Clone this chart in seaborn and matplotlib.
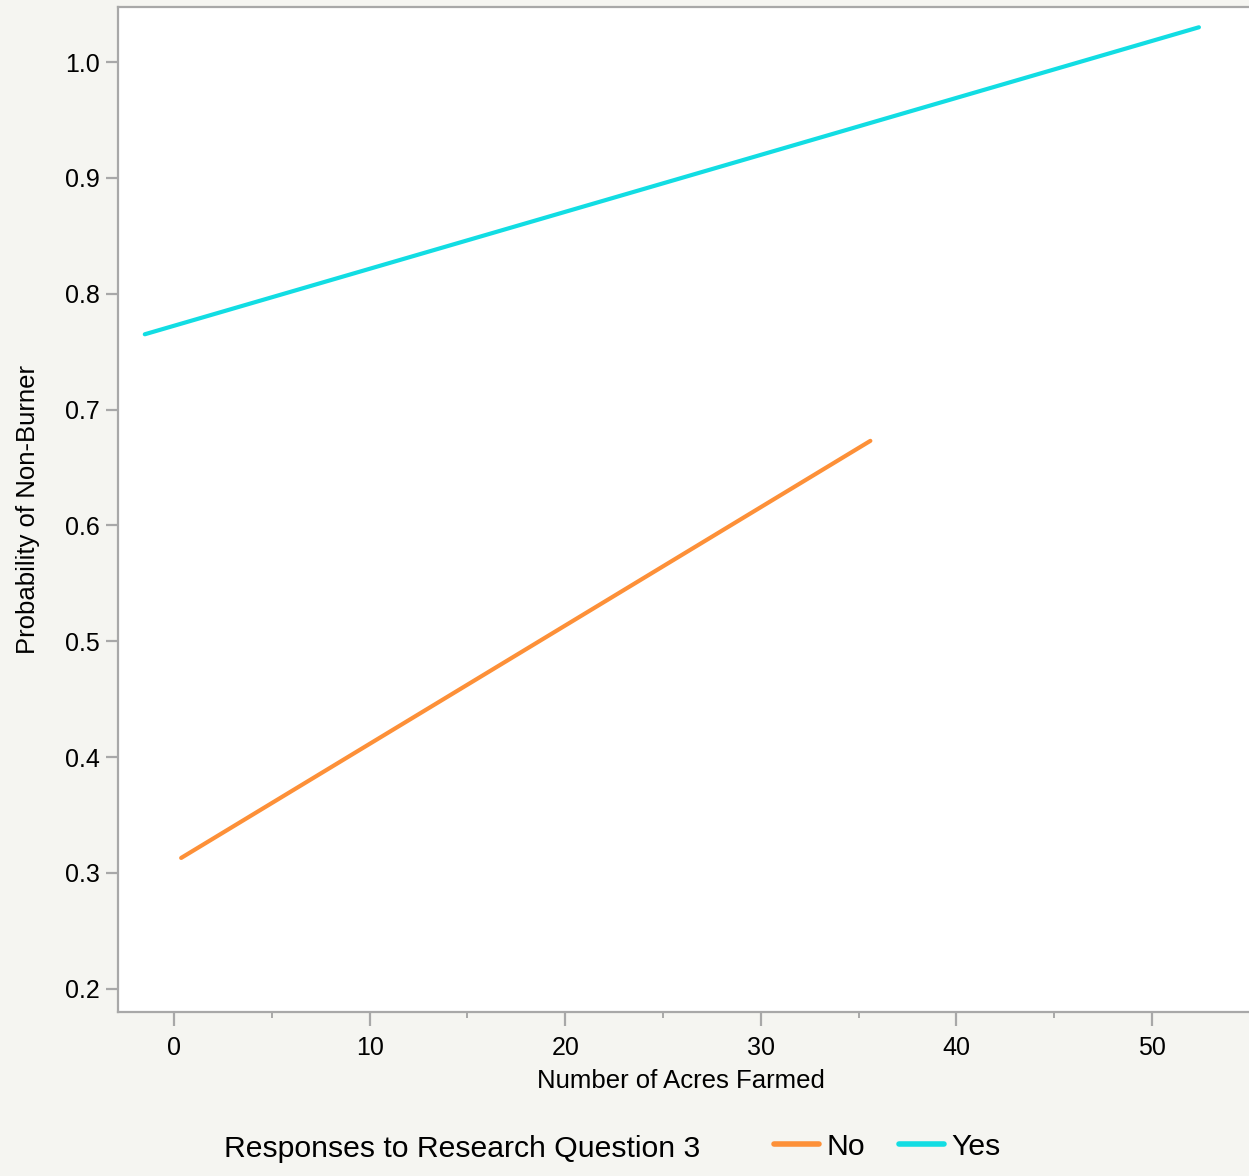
import pandas as pd
import seaborn as sns
import matplotlib.pyplot as plt
from matplotlib.ticker import MultipleLocator

# fitted line endpoints
groups = ["No", "No", "Yes", "Yes"]
acres = [0.36, 35.6, -1.5, 52.4]
prob = [0.313, 0.673, 0.765, 1.030]

palette = {"No": "#fd9038", "Yes": "#12dde3"}
x_ticks = [0, 10, 20, 30, 40, 50]
y_ticks = [0.2, 0.3, 0.4, 0.5, 0.6, 0.7, 0.8, 0.9, 1.0]

df = pd.DataFrame({"Responses": groups, "Acres": acres, "Prob": prob})

sns.set_style("white")
plt.rcParams['font.family'] = ['Liberation Sans', 'DejaVu Sans']
plt.rcParams['text.color'] = 'black'
plt.rcParams['axes.labelcolor'] = 'black'
plt.rcParams['xtick.labelcolor'] = 'black'
plt.rcParams['ytick.labelcolor'] = 'black'

fig = plt.figure(figsize=(12.49, 11.76), dpi=100, facecolor="#f5f5f1")
ax = fig.add_axes([118 / 1249, 1 - 1012 / 1176, 1 - 118 / 1249 + 0.01, (1012 - 7) / 1176])
ax.set_facecolor("white")

sns.lineplot(data=df, x="Acres", y="Prob", hue="Responses", palette=palette,
             linewidth=3.0, ax=ax, legend=False, estimator=None, sort=False)

ax.set_xlim(-2.87, 55.6)
ax.set_ylim(0.180, 1.0475)
ax.set_xticks(x_ticks)
ax.set_xticklabels([str(t) for t in x_ticks])
ax.set_yticks(y_ticks)
ax.set_yticklabels([f"{t:.1f}" for t in y_ticks])
ax.xaxis.set_minor_locator(MultipleLocator(5))

grey = "#a8a8a8"
for side in ["left", "bottom", "top"]:
    ax.spines[side].set_color(grey)
    ax.spines[side].set_linewidth(1.6)
ax.spines["right"].set_visible(False)

ax.tick_params(axis="x", which="major", length=10, width=1.6, color=grey,
               labelsize=18, pad=7, bottom=True)
ax.tick_params(axis="x", which="minor", length=4.5, width=1.4, color=grey, bottom=True)
ax.tick_params(axis="y", which="major", length=9, width=1.6, color=grey,
               labelsize=18, pad=4, left=True)

ax.set_xlabel("Number of Acres Farmed", fontsize=18.5)
ax.xaxis.set_label_coords(0.4924, -0.0567)
ax.set_ylabel("Probability of Non-Burner", fontsize=18.5, labelpad=18)

# legend at the bottom
fig.text(224 / 1249, 1 - 1149 / 1176, "Responses to Research Question 3",
         fontsize=21.7, va="center", ha="left")
handles = [plt.Line2D([], [], color=palette[g], linewidth=4) for g in ["No", "Yes"]]
fig.legend(handles, ["No", "Yes"], loc="center left",
           bbox_to_anchor=(774 / 1249, 1 - 1147 / 1176), ncol=2, frameon=False,
           fontsize=21.7, handlelength=1.5, handletextpad=0.23, columnspacing=1.13,
           borderpad=0, borderaxespad=0)

fig.savefig("out.png", dpi=100, facecolor=fig.get_facecolor())
